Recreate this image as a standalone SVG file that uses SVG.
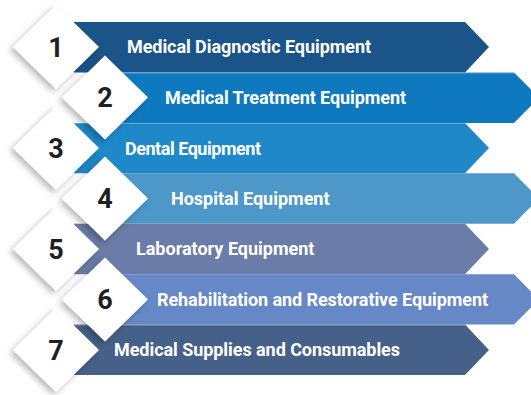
<svg xmlns="http://www.w3.org/2000/svg" width="531" height="395" viewBox="0 0 531 395">
  <defs>
    <filter id="shadow" x="-30%" y="-30%" width="160%" height="160%">
      <feDropShadow dx="-3" dy="3" stdDeviation="3" flood-color="#000" flood-opacity="0.28"/>
    </filter>
    <!-- diamond badge, centred on 0,0 -->
    <polygon id="diamond" points="0,-42 43,0 0,42 -43,0"/>
  </defs>
  <style>
    .label { font-family: Roboto, "Liberation Sans", sans-serif; font-weight: 700; font-size: 18px; fill: #ffffff; }
    .num { font-family: Roboto, "Liberation Sans", sans-serif; font-weight: 700; font-size: 27px; fill: #1f1f1f; text-anchor: middle; }
    .badge { fill: #ffffff; filter: url(#shadow); }
    .edge { stroke: #ffffff; stroke-opacity: 0.35; stroke-width: 1; }
  </style>
  <rect width="531" height="395" fill="#ffffff"/>

  <!-- ribbons -->
  <g id="bands">
    <polygon points="74,22 465,22 489,47 465,72.4 74,72.4" fill="#1a5489"/>
    <polygon points="100,72.4 514,72.4 539,97.6 514,122.9 100,122.9" fill="#0f79bf"/>
    <polygon points="74,122.9 465,122.9 489,148 465,173.3 74,173.3" fill="#1e88c9"/>
    <polygon points="100,173.3 514,173.3 539,198.5 514,223.7 100,223.7" fill="#4d98c9"/>
    <polygon points="74,223.7 465,223.7 489,249 465,274.2 74,274.2" fill="#6a7ca7"/>
    <polygon points="100,274.2 514,274.2 539,299.5 514,324.6 100,324.6" fill="#6688c6"/>
    <polygon points="74,324.6 465,324.6 489,350 465,375 74,375" fill="#466189"/>
    <line class="edge" x1="100" y1="73" x2="514" y2="73"/>
    <line class="edge" x1="74" y1="123.4" x2="465" y2="123.4"/>
    <line class="edge" x1="74" y1="325.1" x2="465" y2="325.1"/>
  </g>

  <g id="node1">
    <use href="#diamond" class="badge" x="56" y="47"/>
    <text class="num" x="56" y="56.5">1</text>
    <text class="label" x="127" y="53" textLength="244" lengthAdjust="spacing">Medical Diagnostic Equipment</text>
  </g>
  <g id="node2">
    <use href="#diamond" class="badge" x="105" y="97.6"/>
    <text class="num" x="105" y="107">2</text>
    <text class="label" x="165" y="103.5" textLength="241" lengthAdjust="spacing">Medical Treatment Equipment</text>
  </g>
  <g id="node3">
    <use href="#diamond" class="badge" x="56" y="148"/>
    <text class="num" x="56" y="157.5">3</text>
    <text class="label" x="125" y="155" textLength="136" lengthAdjust="spacing">Dental Equipment</text>
  </g>
  <g id="node4">
    <use href="#diamond" class="badge" x="105" y="198.5"/>
    <text class="num" x="105" y="208">4</text>
    <text class="label" x="171" y="204.5">Hospital Equipment</text>
  </g>
  <g id="node5">
    <use href="#diamond" class="badge" x="56" y="249"/>
    <text class="num" x="56" y="258.5">5</text>
    <text class="label" x="136" y="255">Laboratory Equipment</text>
  </g>
  <g id="node6">
    <use href="#diamond" class="badge" x="105" y="299.5"/>
    <text class="num" x="105" y="309">6</text>
    <text class="label" x="157" y="305.5" textLength="331" lengthAdjust="spacing">Rehabilitation and Restorative Equipment</text>
  </g>
  <g id="node7">
    <use href="#diamond" class="badge" x="56" y="350"/>
    <text class="num" x="56" y="359.5">7</text>
    <text class="label" x="114" y="356" textLength="286" lengthAdjust="spacing">Medical Supplies and Consumables</text>
  </g>
</svg>
